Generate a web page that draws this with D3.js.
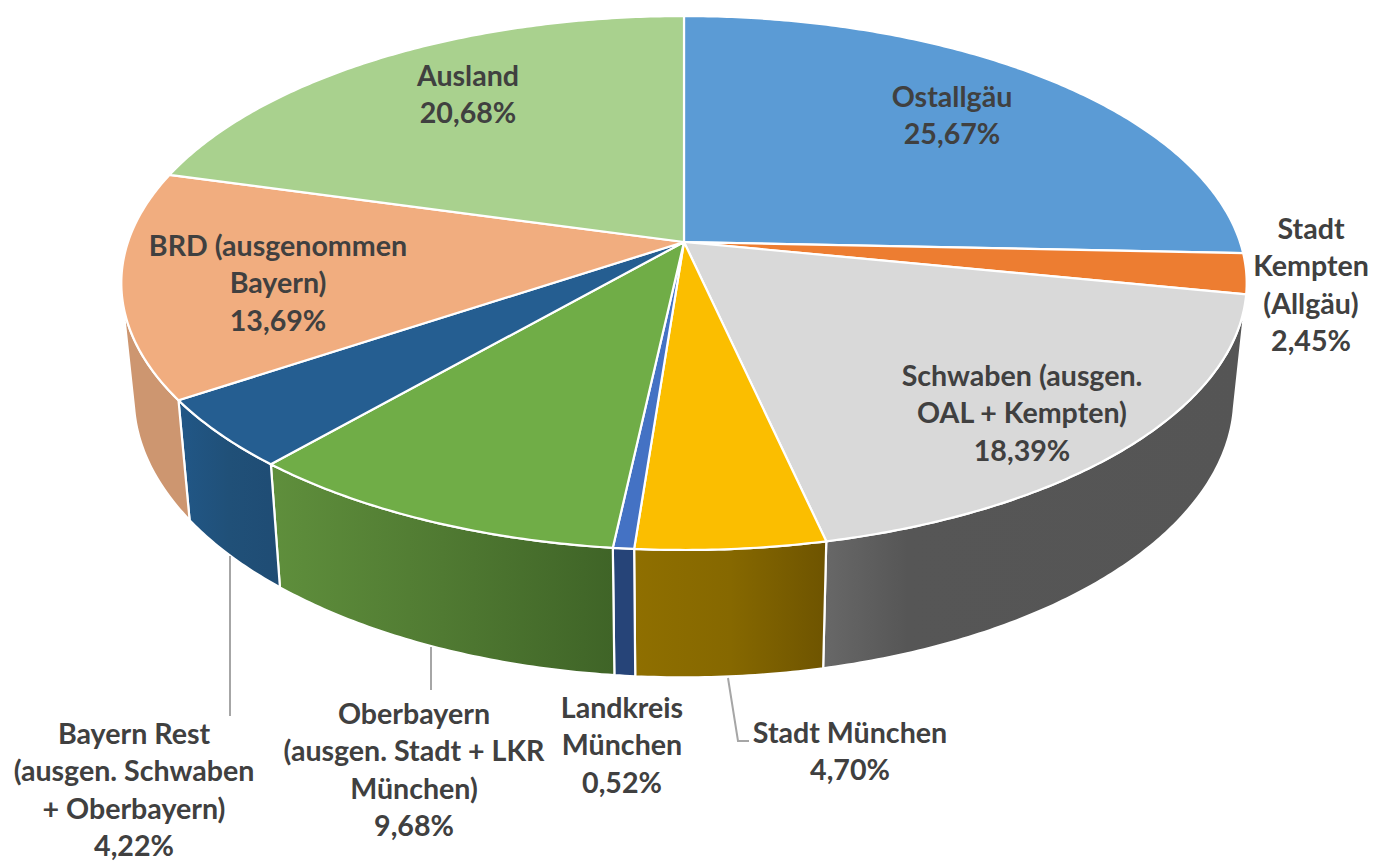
<!DOCTYPE html>
<html><head><meta charset="utf-8">
<script src="https://cdn.jsdelivr.net/npm/d3@7"></script>
<style>html,body{margin:0;padding:0;background:#fff}svg{display:block}</style></head>
<body><svg id="c" width="1374" height="862"></svg>
<script>
const categories=["Ostallgäu","Stadt Kempten (Allgäu)","Schwaben (ausgen. OAL + Kempten)","Stadt München","Landkreis München","Oberbayern (ausgen. Stadt + LKR München)","Bayern Rest (ausgen. Schwaben + Oberbayern)","BRD (ausgenommen Bayern)","Ausland"];
const values=[25.67,2.45,18.39,4.70,0.52,9.68,4.22,13.69,20.68];
const labelLines=[["Ostallgäu"],["Stadt","Kempten","(Allgäu)"],["Schwaben (ausgen.","OAL + Kempten)"],["Stadt München"],["Landkreis","München"],["Oberbayern","(ausgen. Stadt + LKR","München)"],["Bayern Rest","(ausgen. Schwaben","+ Oberbayern)"],["BRD (ausgenommen","Bayern)"],["Ausland"]];
const topColors=["#5B9BD5","#ED7D31","#D9D9D9","#FBBE00","#4472C4","#70AD47","#255E91","#F1AD7F","#A9D18E"];
const wallColors=[null,null,["#686868","#565656","#555555"],["#8F6F00","#866800","#6E5400"],["#264478","#264478","#264478"],["#5F8F3C","#507A32","#3F6427"],["#215787","#205078","#1F4C74"],["#CD9670","#CD9670","#CD9670"],null];

const labelAnchors=[[952,97],[1311,229],[1022,376],[850,733],[622,708],[414,714],[134,734],[278,246],[468,76]];
const lineStep=37.3;
const leaders=[[[230,556],[230,716]],[[431,647],[431,690]],[[728,678],[738,741],[749,741]]];

const svg=d3.select("#c"),defs=svg.append("defs");
const cx=684,cy=242,radiusX=556,persp=-0.1536,yGain=223.5;
const wallScale=0.978,wallY0=354,wallGain=1.05;
const visibleFrom=101.2*Math.PI/180,visibleTo=258.8*Math.PI/180;

const arcs=d3.pie().value(d=>d).sort(null)(values);
function topPt(a){const u=Math.sin(a),t=-Math.cos(a),d=1+persp*t;return [cx+radiusX*u/d,(yGain*t+cy)/d];}
function bottomPt(a){const p=topPt(a);return [cx+(p[0]-cx)*wallScale,wallY0+wallGain*(p[1]-cy)];}
function samples(a0,a1,f){const n=Math.max(2,Math.ceil((a1-a0)/0.01));return d3.range(n+1).map(i=>f(a0+(a1-a0)*i/n));}
const pathGen=d3.line();

const walls=svg.append("g");
arcs.forEach((s,i)=>{
  const a0=Math.max(s.startAngle,visibleFrom),a1=Math.min(s.endAngle,visibleTo);
  if(a1<=a0||!wallColors[i])return;
  const pts=samples(a0,a1,topPt).concat(samples(a0,a1,bottomPt).reverse());
  const xs=d3.extent(pts,p=>p[0]);
  const g=defs.append("linearGradient").attr("id","w"+i).attr("gradientUnits","userSpaceOnUse")
    .attr("x1",xs[0]).attr("x2",xs[1]).attr("y1",0).attr("y2",0);
  const stops=wallColors[i];
  const offs=i===2?[0,0.2,1]:[0,0.5,1];
  g.selectAll("stop").data(stops).join("stop").attr("offset",(d,k)=>offs[k]).attr("stop-color",d=>d);
  walls.append("path").attr("d",pathGen(pts)+"Z").attr("fill",`url(#w${i})`).attr("stroke","#fff").attr("stroke-width",2.2).attr("stroke-linejoin","round");
});

svg.append("g").selectAll("path").data(arcs).join("path")
  .attr("d",s=>pathGen([[cx,cy]].concat(samples(s.startAngle,s.endAngle,topPt)))+"Z")
  .attr("fill",(s,i)=>topColors[i]).attr("stroke","#fff").attr("stroke-width",2.2).attr("stroke-linejoin","round");

svg.append("g").selectAll("path").data(leaders).join("path")
  .attr("d",d=>pathGen(d)).attr("fill","none").attr("stroke","#A6A6A6").attr("stroke-width",2);

const fmt=v=>d3.format(".2f")(v).replace(".",",")+"%";
const lab=svg.append("g").attr("font-family","Lato, 'Open Sans', sans-serif").attr("font-weight",700).attr("font-size",28.6).attr("fill","#404040").attr("text-anchor","middle");
labelLines.forEach((ls,i)=>{
  ls.concat([fmt(values[i])]).forEach((t,k)=>{
    lab.append("text").attr("x",labelAnchors[i][0]).attr("y",labelAnchors[i][1]+k*lineStep).attr("dy","0.35em").text(t);
  });
});
</script></body></html>
